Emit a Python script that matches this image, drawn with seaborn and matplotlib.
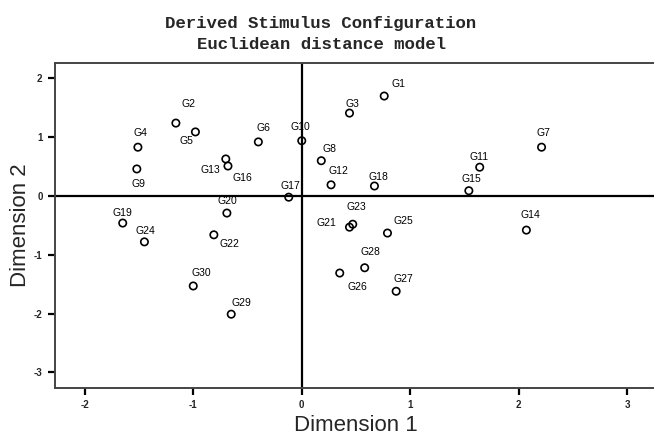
import pandas as pd
import matplotlib.pyplot as plt
import seaborn as sns

# stimulus coordinates
labels = ['G1', 'G2', 'G3', 'G4', 'G5', 'G6', 'G7', 'G8', 'G9', 'G10',
          'G11', 'G12', 'G13', 'G14', 'G15', 'G16', 'G17', 'G18', 'G19', 'G20',
          'G21', 'G22', 'G23', 'G24', 'G25', 'G26', 'G27', 'G28', 'G29', 'G30']
dim1 = [0.76, -1.16, 0.44, -1.51, -0.98, -0.40, 2.21, 0.18, -1.52, 0.00,
        1.64, 0.27, -0.70, 2.07, 1.54, -0.68, -0.12, 0.67, -1.65, -0.69,
        0.44, -0.81, 0.47, -1.45, 0.79, 0.35, 0.87, 0.58, -0.65, -1.00]
dim2 = [1.70, 1.24, 1.41, 0.83, 1.09, 0.92, 0.83, 0.60, 0.46, 0.94,
        0.49, 0.19, 0.63, -0.58, 0.09, 0.51, -0.02, 0.17, -0.46, -0.29,
        -0.53, -0.66, -0.48, -0.78, -0.63, -1.31, -1.62, -1.22, -2.01, -1.53]

x_ticks = [-2, -1, 0, 1, 2, 3]
y_ticks = [-3, -2, -1, 0, 1, 2]

# label placement (pixels relative to the marker)
label_offsets = {
    'G1': (14, 12), 'G2': (13, 19), 'G3': (3, 9), 'G4': (3, 14), 'G5': (-9, -9),
    'G6': (5, 14), 'G7': (2, 14), 'G8': (8, 12), 'G9': (2, -15), 'G10': (-1, 14),
    'G11': (-1, 10), 'G12': (7, 14), 'G13': (-15, -11), 'G14': (4, 15), 'G15': (3, 12),
    'G16': (14, -12), 'G17': (2, 11), 'G18': (4, 9), 'G19': (0, 10), 'G20': (0, 12),
    'G21': (-23, 4), 'G22': (16, -9), 'G23': (4, 17), 'G24': (1, 11), 'G25': (16, 12),
    'G26': (18, -14), 'G27': (7, 12), 'G28': (6, 16), 'G29': (10, 11), 'G30': (8, 13),
}

df = pd.DataFrame({'stim': labels, 'Dimension 1': dim1, 'Dimension 2': dim2})

sns.set_style('ticks')
plt.rcParams['font.family'] = ['Liberation Sans', 'DejaVu Sans']

fig = plt.figure(figsize=(6.54, 4.36), dpi=100)
ax = fig.add_axes([0.0841, 0.1101, 0.9205, 0.7461])

ax.axhline(0, color='black', lw=1.6, zorder=1)
ax.axvline(0, color='black', lw=1.6, zorder=1)

sns.scatterplot(data=df, x='Dimension 1', y='Dimension 2', ax=ax,
                marker='o', s=28, facecolor='none', edgecolor='black',
                linewidth=1.2, zorder=3, legend=False)

for _, r in df.iterrows():
    dx, dy = label_offsets[r['stim']]
    ax.annotate(r['stim'], (r['Dimension 1'], r['Dimension 2']),
                xytext=(dx, dy), textcoords='offset pixels',
                ha='center', va='center', fontsize=7.5, color='black')

ax.set_xlim(-2.274, 3.274)
ax.set_ylim(-3.265, 2.267)
ax.set_xticks(x_ticks)
ax.set_yticks(y_ticks)
ax.set_xticklabels([str(t) for t in x_ticks], fontsize=7, fontweight='bold')
ax.set_yticklabels([str(t) for t in y_ticks], fontsize=7, fontweight='bold')
ax.tick_params(direction='out', length=5, width=1.6, color='black', pad=4)

for sp in ax.spines.values():
    sp.set_color('#444444')
    sp.set_linewidth(1.4)

ax.set_xlabel('Dimension 1', fontsize=16, labelpad=3)
ax.set_ylabel('Dimension 2', fontsize=16, labelpad=2)

fig.text(0.491, 0.947, 'Derived Stimulus Configuration', ha='center', va='center',
         family=['Liberation Mono', 'DejaVu Sans Mono'], fontweight='bold', fontsize=12.5)
fig.text(0.491, 0.897, 'Euclidean distance model', ha='center', va='center',
         family=['Liberation Mono', 'DejaVu Sans Mono'], fontweight='bold', fontsize=12.5)

fig.savefig('out.png', dpi=100)
